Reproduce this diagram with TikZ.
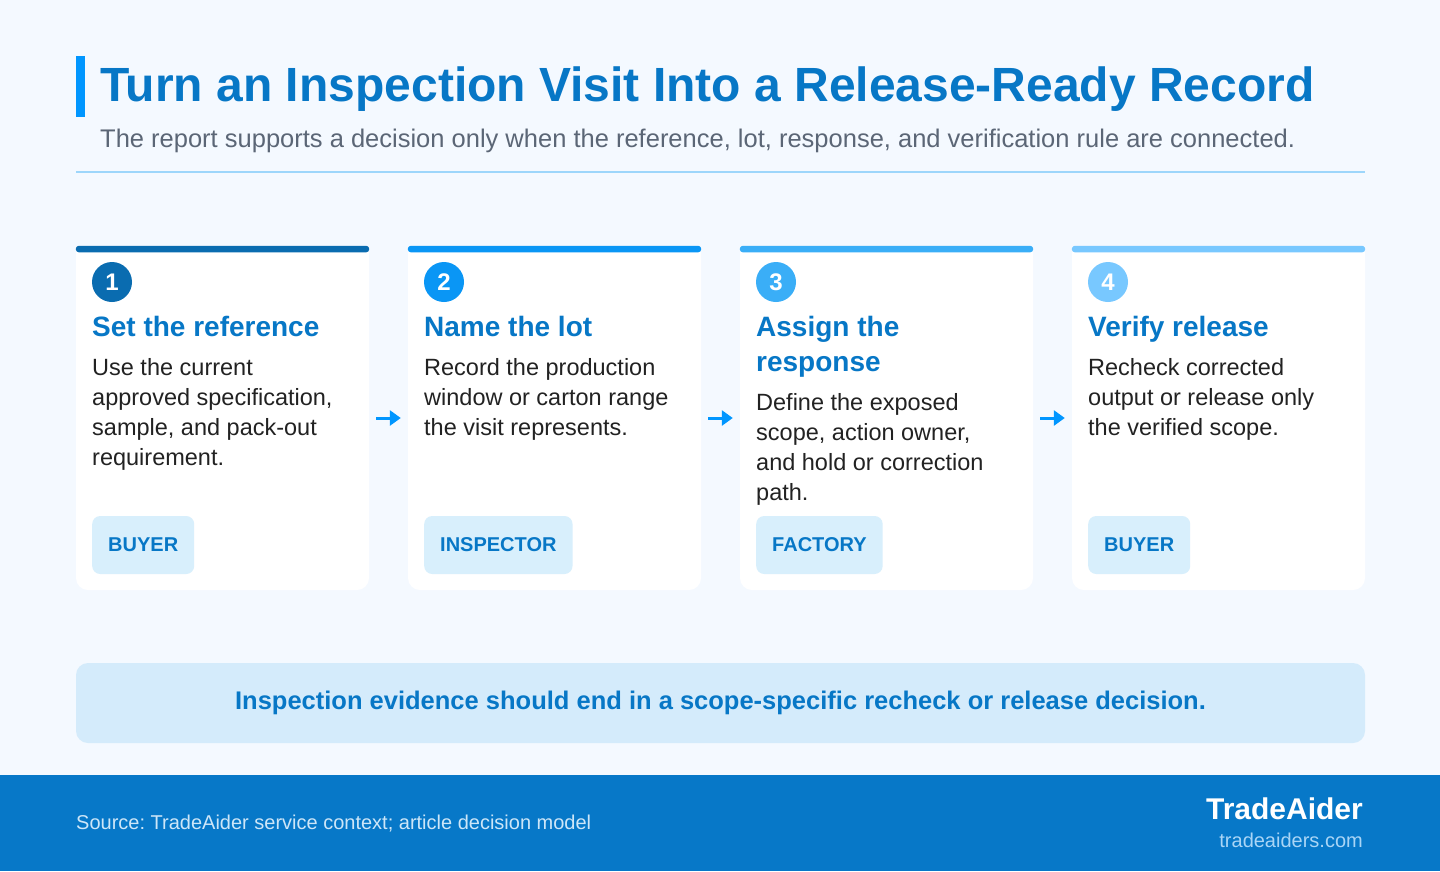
\documentclass[tikz,border=0pt]{standalone}
\usepackage{fontspec}
\setmainfont{Liberation Sans}
\usetikzlibrary{arrows.meta}
\frenchspacing

\definecolor{pagebg}{HTML}{F4F9FF}
\definecolor{titleblue}{HTML}{0777C6}
\definecolor{accent}{HTML}{0096FF}
\definecolor{subgrey}{HTML}{5B6676}
\definecolor{rulelight}{HTML}{9DD6FB}
\definecolor{stepA}{HTML}{0A6CB0}
\definecolor{stepB}{HTML}{0A96F5}
\definecolor{stepC}{HTML}{3AAEF7}
\definecolor{stepD}{HTML}{78C8FF}
\definecolor{bodyink}{HTML}{222222}
\definecolor{tagfill}{HTML}{D8EFFC}
\definecolor{bannerfill}{HTML}{D4EBFB}
\definecolor{footblue}{HTML}{0778C8}
\definecolor{footsoft}{HTML}{CDE6F8}
\definecolor{footlink}{HTML}{A9D5F6}

\tikzset{
  card/.style={fill=white, rounded corners=12pt, minimum width=293pt, minimum height=344pt, inner sep=0pt},
  stepnum/.style={circle, minimum size=40pt, inner sep=0pt, text=white, font=\bfseries\fontsize{24}{24}\selectfont},
  stephead/.style={anchor=base west, inner sep=0pt, align=left, text=titleblue, font=\bfseries\fontsize{28}{35}\selectfont},
  stepbody/.style={anchor=base west, inner sep=0pt, align=left, text=bodyink, font=\fontsize{23.5}{30}\selectfont},
  roletag/.style={anchor=west, fill=tagfill, rounded corners=8pt, minimum height=58pt, inner xsep=16pt, text=titleblue, font=\bfseries\fontsize{20}{20}\selectfont},
  flowarrow/.style={-{Triangle[length=11pt,width=15pt]}, line width=3pt, accent, shorten >=7pt, shorten <=7pt}
}

\begin{document}
\begin{tikzpicture}[x=1pt, y=-1pt]
  % 1. 背景與邊界
  \useasboundingbox (0,0) rectangle (1440,871);
  \fill[pagebg] (0,0) rectangle (1440,871);

  % 2. 標題區
  \fill[accent] (76,56) rectangle (85,117);
  \node[anchor=base west, inner sep=0pt, text=titleblue, font=\bfseries\fontsize{48}{48}\selectfont] (title) at (100,101) {Turn an Inspection Visit Into a Release-Ready Record};
  \node[anchor=base west, inner sep=0pt, text=subgrey, font=\fontsize{25.5}{26}\selectfont] (subtitle) at (100,147) {The report supports a decision only when the reference, lot, response, and verification rule are connected.};
  \draw[rulelight, line width=2pt] (76,172) -- (1365,172);

  % 3. 四張卡片
  \node[card] (card1) at (222.5,418) {};
  \node[card] (card2) at (554.5,418) {};
  \node[card] (card3) at (886.5,418) {};
  \node[card] (card4) at (1218.5,418) {};
  \fill[white] (card1.north west) rectangle ([yshift=-40pt]card1.north east);
  \fill[white] (card2.north west) rectangle ([yshift=-40pt]card2.north east);
  \fill[white] (card3.north west) rectangle ([yshift=-40pt]card3.north east);
  \fill[white] (card4.north west) rectangle ([yshift=-40pt]card4.north east);
  \fill[stepA, rounded corners=3pt] (card1.north west) rectangle ([yshift=-6.5pt]card1.north east);
  \fill[stepB, rounded corners=3pt] (card2.north west) rectangle ([yshift=-6.5pt]card2.north east);
  \fill[stepC, rounded corners=3pt] (card3.north west) rectangle ([yshift=-6.5pt]card3.north east);
  \fill[stepD, rounded corners=3pt] (card4.north west) rectangle ([yshift=-6.5pt]card4.north east);

  % 4. 編號圓
  \node[stepnum, fill=stepA] (num1) at (112,282) {1};
  \node[stepnum, fill=stepB] (num2) at (444,282) {2};
  \node[stepnum, fill=stepC] (num3) at (776,282) {3};
  \node[stepnum, fill=stepD] (num4) at (1108,282) {4};

  % 5. 卡片標題與內文（base 取最後一行）
  \node[stephead] (head1) at (92,336) {Set the reference};
  \node[stephead] (head2) at (424,336) {Name the lot};
  \node[stephead] (head3) at (756,371) {Assign the\\response};
  \node[stephead] (head4) at (1088,336) {Verify release};
  \node[stepbody] (body1) at (92,465) {Use the current\\approved specification,\\sample, and pack-out\\requirement.};
  \node[stepbody] (body2) at (424,435) {Record the production\\window or carton range\\the visit represents.};
  \node[stepbody] (body3) at (756,500) {Define the exposed\\scope, action owner,\\and hold or correction\\path.};
  \node[stepbody] (body4) at (1088,435) {Recheck corrected\\output or release only\\the verified scope.};

  % 6. 角色標籤
  \node[roletag] (tag1) at (92,545) {BUYER};
  \node[roletag] (tag2) at (424,545) {INSPECTOR};
  \node[roletag] (tag3) at (756,545) {FACTORY};
  \node[roletag] (tag4) at (1088,545) {BUYER};

  % 7. 卡片之間的箭頭
  \draw[flowarrow] (card1.east) -- (card2.west);
  \draw[flowarrow] (card2.east) -- (card3.west);
  \draw[flowarrow] (card3.east) -- (card4.west);

  % 8. 結論橫幅
  \node[fill=bannerfill, rounded corners=12pt, minimum width=1289pt, minimum height=80pt, text=titleblue, font=\bfseries\fontsize{25.5}{26}\selectfont] (note) at (720.5,703) {Inspection evidence should end in a scope-specific recheck or release decision.};

  % 9. 頁尾
  \fill[footblue] (0,775) rectangle (1440,871);
  \node[anchor=base west, inner sep=0pt, text=footsoft, font=\fontsize{20}{20}\selectfont] (source) at (76,829) {Source: TradeAider service context; article decision model};
  \node[anchor=base east, inner sep=0pt, text=white, font=\bfseries\fontsize{30}{30}\selectfont] (brand) at (1363,819) {TradeAider};
  \node[anchor=base east, inner sep=0pt, text=footlink, font=\fontsize{20}{20}\selectfont] (site) at (1363,847) {tradeaiders.com};
\end{tikzpicture}
\end{document}
